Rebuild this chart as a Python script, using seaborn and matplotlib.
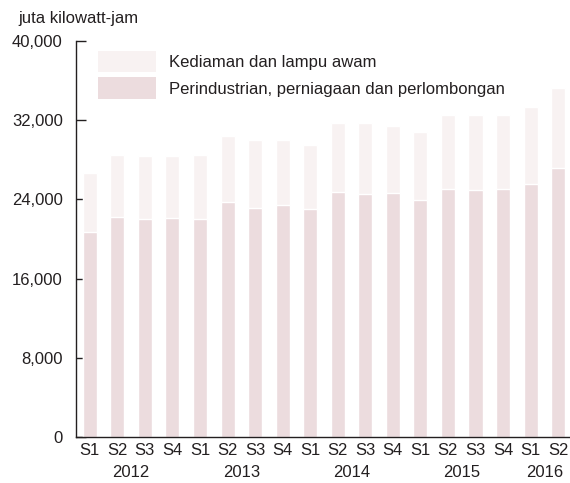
import matplotlib
matplotlib.use('Agg')
import matplotlib.pyplot as plt
from matplotlib.patches import Patch
from matplotlib.transforms import blended_transform_factory
import seaborn as sns
import pandas as pd

sns.set_style('white')
plt.rcParams['font.family'] = ['Liberation Sans', 'DejaVu Sans']

# data (juta kilowatt-jam)
years = ['2012'] * 4 + ['2013'] * 4 + ['2014'] * 4 + ['2015'] * 4 + ['2016'] * 2
quarters = ['S1', 'S2', 'S3', 'S4'] * 4 + ['S1', 'S2']
industri = [20700, 22200, 22000, 22100, 22000, 23700, 23100, 23400, 23000,
            24700, 24500, 24600, 23900, 25100, 24900, 25100, 25600, 27150]
jumlah = [26650, 28450, 28350, 28350, 28450, 30400, 30000, 30000, 29500,
          31700, 31700, 31400, 30800, 32500, 32500, 32500, 33300, 35250]
year_labels = ['2012', '2013', '2014', '2015', '2016']

df = pd.DataFrame({'tahun': years, 'suku': quarters, 'industri': industri, 'jumlah': jumlah})
df['tempoh'] = df['tahun'] + ' ' + df['suku']
order = list(df['tempoh'])

c_kediaman = '#f8f2f2'
c_industri = '#ecdcde'
txt = '#231f20'
fs = 12

fig = plt.figure(figsize=(5.7, 4.83), dpi=100)
ax = fig.add_axes([76 / 570, 46 / 483, 494 / 570, 396 / 483])

# total bar first (residential on top), then industrial part over it
sns.barplot(data=df, x='tempoh', y='jumlah', order=order, color=c_kediaman,
            saturation=1, width=0.51, ax=ax)
sns.barplot(data=df, x='tempoh', y='industri', order=order, color=c_industri,
            saturation=1, width=0.51, ax=ax)

ax.set_ylim(0, 40000)
ax.set_xlim(-0.5, 17.43)
yt = [0, 8000, 16000, 24000, 32000, 40000]
ax.set_yticks(yt)
ax.set_yticklabels(['{:,}'.format(v) for v in yt])
ax.set_xticks(range(len(order)))
ax.set_xticklabels(quarters)
ax.set_xlabel('')
ax.set_ylabel('')
for s in ['top', 'right']:
    ax.spines[s].set_visible(False)
for s in ['left', 'bottom']:
    ax.spines[s].set_color(txt)
    ax.spines[s].set_linewidth(1.0)
ax.tick_params(axis='y', direction='in', length=7.5, width=1, color=txt,
               pad=9.5, labelsize=fs, labelcolor=txt, left=True)
ax.tick_params(axis='x', length=0, pad=4, labelsize=fs, labelcolor=txt)

# year labels under the quarter labels
trans = blended_transform_factory(ax.transData, ax.transAxes)
year_pos = [1.5, 5.5, 9.5, 13.5, 16.5]
for x, y in zip(year_pos, year_labels):
    ax.text(x, -0.09, y, transform=trans, ha='center', va='center',
            fontsize=fs, color=txt)

fig.text(18 / 570, 1 - 18 / 483, 'juta kilowatt-jam', ha='left', va='center',
         fontsize=fs, color=txt)

handles = [Patch(facecolor=c_kediaman, edgecolor='none'),
           Patch(facecolor=c_industri, edgecolor='none')]
ax.legend(handles, ['Kediaman dan lampu awam', 'Perindustrian, perniagaan dan perlombongan'],
          loc='upper left', bbox_to_anchor=(98 / 570, 1 - 51 / 483),
          bbox_transform=fig.transFigure, frameon=False, fontsize=fs,
          handlelength=3.45, handleheight=1.6, handletextpad=0.8,
          labelspacing=0.3, borderpad=0, borderaxespad=0, labelcolor=txt)

fig.savefig('out.png', dpi=100)
